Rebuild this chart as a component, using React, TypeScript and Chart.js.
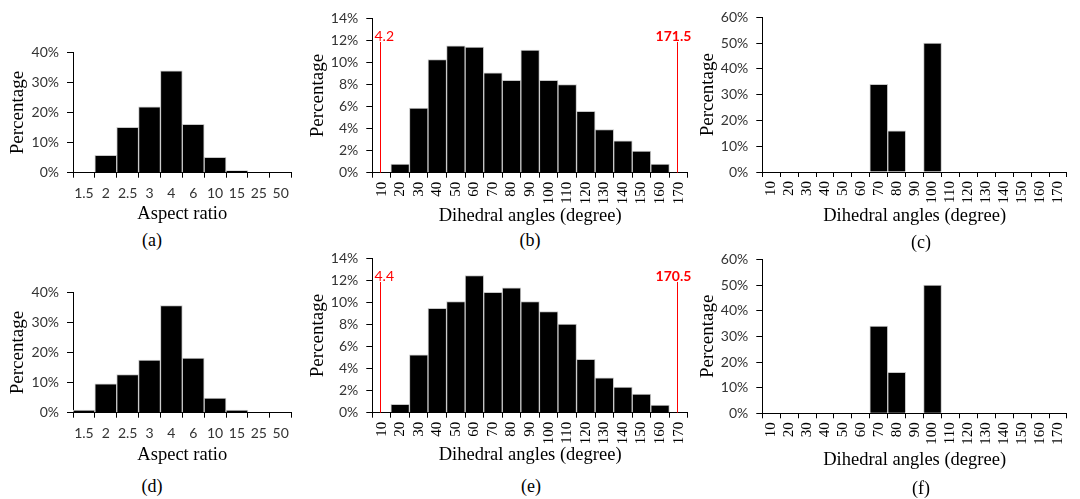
import React, { useEffect, useRef } from 'react';
import { Chart, registerables } from 'chart.js';

Chart.register(...registerables);

// ---------- data ----------
const aspectRatioLabels = ['1.5', '2', '2.5', '3', '4', '6', '10', '15', '25', '50'];
const aspectRatioTop = [0, 5.8, 15.1, 21.9, 33.9, 16.1, 5.1, 0.7, 0, 0];
const aspectRatioBottom = [0.9, 9.6, 12.7, 17.5, 35.6, 18.2, 4.9, 0.9, 0, 0];

const angleLabels = ['10', '20', '30', '40', '50', '60', '70', '80', '90', '100', '110', '120', '130', '140', '150', '160', '170'];
const dihedralTop = [0, 0.78, 5.87, 10.26, 11.52, 11.4, 9.06, 8.38, 11.13, 8.38, 7.99, 5.56, 3.92, 2.9, 1.97, 0.78, 0];
const dihedralBottom = [0, 0.75, 5.26, 9.47, 10.09, 12.45, 10.93, 11.32, 10.09, 9.17, 8.03, 4.84, 3.17, 2.33, 1.7, 0.69, 0];
const singularTop = [0, 0, 0, 0, 0, 0, 34, 16, 0, 50, 0, 0, 0, 0, 0, 0, 0];
const singularBottom = [0, 0, 0, 0, 0, 0, 34, 16, 0, 50, 0, 0, 0, 0, 0, 0, 0];

type Marker = { text: string; category: string; bold: boolean };
const markersTop: Marker[] = [
  { text: '4.2', category: '10', bold: false },
  { text: '171.5', category: '170', bold: true },
];
const markersBottom: Marker[] = [
  { text: '4.4', category: '10', bold: false },
  { text: '170.5', category: '170', bold: true },
];

// ---------- styling ----------
const SERIF = "'Liberation Serif', 'Times New Roman', serif";
const SANS = "Lato, 'Liberation Sans', sans-serif";
const Y_TITLE_SIZE = 19;
const X_TITLE_SIZE = 18.5;
const LH = 1.2;
const MARKER_LEVEL = 12; // percent level where marker labels sit

interface PanelSpec {
  key: string;
  labels: string[];
  values: number[];
  yMax: number;
  yStep: number;
  xTitle: string;
  rotated: boolean;
  markers: Marker[];
  area: { l: number; t: number; r: number; b: number };
  yTitleX: number;
  xTitleY: number;
  caption: { text: string; x: number; y: number };
  extraRight: number;
}

const panels: PanelSpec[] = [
  {
    key: 'a', labels: aspectRatioLabels, values: aspectRatioTop, yMax: 40, yStep: 10,
    xTitle: 'Aspect ratio', rotated: false, markers: [],
    area: { l: 73, t: 50.7, r: 292, b: 172.7 }, yTitleX: 18, xTitleY: 214,
    caption: { text: '(a)', x: 152, y: 240 }, extraRight: 4,
  },
  {
    key: 'b', labels: angleLabels, values: dihedralTop, yMax: 14, yStep: 2,
    xTitle: 'Dihedral angles (degree)', rotated: true, markers: markersTop,
    area: { l: 372.3, t: 16.7, r: 689, b: 172.7 }, yTitleX: 318, xTitleY: 216,
    caption: { text: '(b)', x: 530, y: 240 }, extraRight: 12,
  },
  {
    key: 'c', labels: angleLabels, values: singularTop, yMax: 60, yStep: 10,
    xTitle: 'Dihedral angles (degree)', rotated: true, markers: [],
    area: { l: 762.3, t: 15.3, r: 1079, b: 172 }, yTitleX: 708, xTitleY: 216,
    caption: { text: '(c)', x: 921, y: 242 }, extraRight: 1,
  },
  {
    key: 'd', labels: aspectRatioLabels, values: aspectRatioBottom, yMax: 40, yStep: 10,
    xTitle: 'Aspect ratio', rotated: false, markers: [],
    area: { l: 73, t: 290.7, r: 292, b: 412.7 }, yTitleX: 18, xTitleY: 455,
    caption: { text: '(d)', x: 152, y: 486 }, extraRight: 4,
  },
  {
    key: 'e', labels: angleLabels, values: dihedralBottom, yMax: 14, yStep: 2,
    xTitle: 'Dihedral angles (degree)', rotated: true, markers: markersBottom,
    area: { l: 372.3, t: 256.3, r: 689, b: 412.7 }, yTitleX: 318, xTitleY: 455,
    caption: { text: '(e)', x: 531, y: 486 }, extraRight: 12,
  },
  {
    key: 'f', labels: angleLabels, values: singularBottom, yMax: 60, yStep: 10,
    xTitle: 'Dihedral angles (degree)', rotated: true, markers: [],
    area: { l: 762.3, t: 257, r: 1079, b: 413.3 }, yTitleX: 708, xTitleY: 460,
    caption: { text: '(f)', x: 921, y: 488 }, extraRight: 1,
  },
];

function Panel({ spec }: { spec: PanelSpec }) {
  const ref = useRef<HTMLCanvasElement | null>(null);
  const { area } = spec;
  const yLh = Y_TITLE_SIZE * LH;
  const xLh = X_TITLE_SIZE * LH;
  const boxLeft = spec.yTitleX - 14;
  const boxTop = Math.floor(area.t - 14);
  const boxRight = area.r + spec.extraRight;
  const boxBottom = Math.ceil(spec.xTitleY + 14);
  const width = Math.round(boxRight - boxLeft);
  const height = boxBottom - boxTop;
  const scaleLeft = spec.yTitleX - yLh / 2;
  const yW = area.l - scaleLeft;
  const xH = spec.xTitleY + xLh / 2 - area.b;

  useEffect(() => {
    if (!ref.current) return;
    const markers = spec.markers;
    const markerPlugin = {
      id: 'markers' + spec.key,
      afterDatasetsDraw(chart: any) {
        if (!markers.length) return;
        const ctx = chart.ctx;
        const xs = chart.scales.x;
        const ys = chart.scales.y;
        const cell = (xs.right - xs.left) / spec.labels.length;
        const yTop = ys.getPixelForValue(MARKER_LEVEL);
        ctx.save();
        for (const m of markers) {
          const idx = spec.labels.indexOf(m.category);
          const x = Math.round(xs.getPixelForValue(idx) - 0.1 * cell) + 0.5;
          ctx.strokeStyle = '#ff0000';
          ctx.lineWidth = 1;
          ctx.beginPath();
          ctx.moveTo(x, yTop + 1.5);
          ctx.lineTo(x, ys.bottom);
          ctx.stroke();
          ctx.fillStyle = '#ff0000';
          ctx.font = (m.bold ? 'bold ' : '') + '14px ' + SANS;
          ctx.textAlign = m.bold ? 'center' : 'left';
          ctx.textBaseline = 'alphabetic';
          ctx.fillText(m.text, m.bold ? x - 4 : x - 6, yTop + 0.5);
        }
        ctx.restore();
      },
    };

    const xTicks = spec.rotated
      ? { autoSkip: false, minRotation: 90, maxRotation: 90, padding: 4, font: { family: SERIF, size: 15 }, color: '#000' }
      : { autoSkip: false, minRotation: 0, maxRotation: 0, padding: 7, font: { family: SANS, size: 14 }, color: '#333' };

    const chart = new Chart(ref.current, {
      type: 'bar',
      data: {
        labels: spec.labels,
        datasets: [
          {
            data: spec.values,
            backgroundColor: '#000000',
            borderColor: '#c8c8c8',
            borderWidth: 1,
            borderSkipped: 'start',
            barPercentage: 1,
            categoryPercentage: 1,
          },
        ],
      },
      options: {
        responsive: false,
        animation: false,
        events: [],
        layout: {
          autoPadding: false,
          padding: {
            left: scaleLeft - boxLeft,
            top: area.t - boxTop,
            right: boxRight - area.r,
            bottom: boxBottom - (area.b + xH),
          },
        },
        plugins: {
          legend: { display: false },
          title: { display: false },
          tooltip: { enabled: false },
        },
        scales: {
          x: {
            type: 'category',
            offset: true,
            grid: { display: true, drawOnChartArea: false, drawTicks: true, tickLength: 5, offset: true, color: '#000', lineWidth: 1 },
            border: { display: true, color: '#000', width: 1 },
            ticks: xTicks as any,
            title: { display: true, text: spec.xTitle, font: { family: SERIF, size: X_TITLE_SIZE, lineHeight: LH }, color: '#000', padding: 0 },
            afterFit: (s: any) => { s.height = xH; },
          },
          y: {
            min: 0,
            max: spec.yMax,
            ticks: {
              stepSize: spec.yStep,
              padding: 8,
              font: { family: SANS, size: 14 },
              color: '#333',
              callback: (v: any) => v + '%',
            },
            grid: { display: true, drawOnChartArea: false, drawTicks: true, tickLength: 6, color: '#000', lineWidth: 1 },
            border: { display: true, color: '#000', width: 1 },
            title: { display: true, text: 'Percentage', font: { family: SERIF, size: Y_TITLE_SIZE, lineHeight: LH }, color: '#000', padding: 0 },
            afterFit: (s: any) => { s.width = yW; },
          },
        },
      } as any,
      plugins: [markerPlugin],
    });
    return () => chart.destroy();
  }, []);

  return (
    <>
      <canvas
        ref={ref}
        width={width}
        height={height}
        style={{ position: 'absolute', left: boxLeft, top: boxTop, width, height }}
      />
      <div
        style={{
          position: 'absolute',
          left: spec.caption.x,
          top: spec.caption.y,
          transform: 'translate(-50%, -50%)',
          fontFamily: SERIF,
          fontSize: 18,
          lineHeight: 1,
          color: '#000',
          whiteSpace: 'nowrap',
        }}
      >
        {spec.caption.text}
      </div>
    </>
  );
}

export default function App() {
  return (
    <div
      style={{
        position: 'absolute',
        left: 0,
        top: 0,
        width: 1080,
        height: 499,
        overflow: 'hidden',
        background: '#fff',
      }}
    >
      {panels.map((p) => (
        <Panel key={p.key} spec={p} />
      ))}
    </div>
  );
}
